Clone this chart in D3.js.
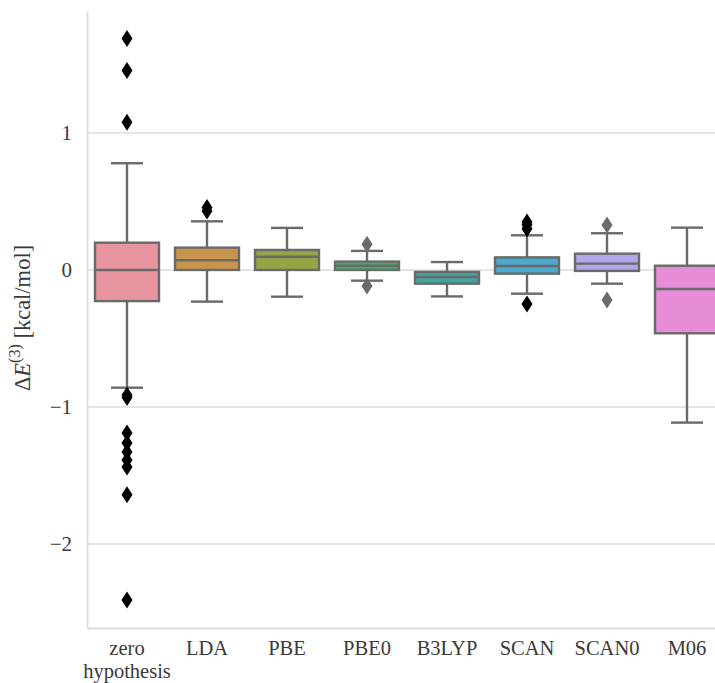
<!DOCTYPE html>
<html>
<head>
<meta charset="utf-8">
<script src="https://cdn.jsdelivr.net/npm/d3@7"></script>
<style>
  body { margin: 0; background: #fff; }
  text { font-family: "Liberation Serif", "DejaVu Serif", serif; fill: #3a3a3a; }
</style>
</head>
<body>
<div id="chart"></div>
<script>
// categories and box statistics
var categories = ["zero hypothesis", "LDA", "PBE", "PBE0", "B3LYP", "SCAN", "SCAN0", "M06"];
var q1 = [-0.227, 0.0, 0.0, 0.0, -0.1, -0.027, -0.007, -0.462];
var median = [0.0, 0.071, 0.097, 0.031, -0.051, 0.029, 0.046, -0.139];
var q3 = [0.199, 0.163, 0.146, 0.061, -0.014, 0.092, 0.119, 0.031];
var whiskerLo = [-0.859, -0.231, -0.195, -0.078, -0.193, -0.173, -0.1, -1.114];
var whiskerHi = [0.779, 0.355, 0.307, 0.139, 0.058, 0.253, 0.268, 0.309];
var outliers = [
  [1.69, 1.455, 1.078, -0.912, -0.93, -1.19, -1.263, -1.328, -1.387, -1.438, -1.64, -2.409],
  [0.43, 0.455],
  [],
  [0.187, -0.117],
  [],
  [0.30, 0.33, 0.35, -0.248],
  [0.328, -0.219],
  []
];
var darkFliers = [true, true, false, false, false, true, false, false];
var yTicks = [-2, -1, 0, 1];

var fills = ["#e9959f", "#c9954c", "#98a345", "#3fae66", "#3ca69f", "#4caacf", "#b4a6eb", "#e78cd6"];

var svgWidth = 715;
var svgHeight = 683;
var lineGray = "#6a6a6a";
var spineGray = "#dcdcdc";

var svg = d3.select("#chart")
  .append("svg")
  .attr("width", svgWidth)
  .attr("height", svgHeight);

var x = d3.scaleBand()
  .domain(categories)
  .range([87, 727])
  .paddingInner(0)
  .paddingOuter(0);

var y = d3.scaleLinear()
  .domain([-2.613, 1.89])
  .range([628, 11]);

var boxW = x.bandwidth() * 0.8;

// grid lines
svg.append("g")
  .selectAll("line")
  .data(yTicks)
  .enter()
  .append("line")
  .attr("x1", 87)
  .attr("x2", svgWidth)
  .attr("y1", d => y(d))
  .attr("y2", d => y(d))
  .attr("stroke", spineGray)
  .attr("stroke-width", 1.6);

// axes
var leftAxis = d3.axisLeft(y)
  .tickValues(yTicks)
  .tickSize(0)
  .tickPadding(15)
  .tickFormat(d => d < 0 ? "\u2212" + Math.abs(d) : String(d));

var yAxisG = svg.append("g")
  .attr("transform", "translate(87,0)")
  .call(leftAxis);
yAxisG.select(".domain").attr("stroke", spineGray).attr("stroke-width", 1.8);
yAxisG.selectAll("text")
  .attr("font-size", 21)
  .attr("font-family", "Liberation Serif")
  .attr("fill", "#3a3a3a");

var bottomAxis = d3.axisBottom(x).tickSize(0).tickFormat("");
var xAxisG = svg.append("g")
  .attr("transform", "translate(0,628)")
  .call(bottomAxis);
xAxisG.select(".domain").attr("stroke", spineGray).attr("stroke-width", 1.8);

// category labels, one text per line so wrapped lines stay apart
var labels = svg.append("g");
categories.forEach(function(c) {
  var words = c.split(" ");
  words.forEach(function(w, i) {
    labels.append("text")
      .attr("x", x(c) + x.bandwidth() / 2)
      .attr("y", 655 + i * 23)
      .attr("text-anchor", "middle")
      .attr("font-size", 20.5)
      .text(w);
  });
});

// y label
var yl = svg.append("text")
  .attr("transform", "translate(30,318) rotate(-90)")
  .attr("text-anchor", "middle")
  .attr("font-size", 22.5);
yl.append("tspan").text("\u0394");
yl.append("tspan").attr("font-style", "italic").text("E");
yl.append("tspan").attr("font-size", 16).attr("dy", -10).text("(3)");
yl.append("tspan").attr("dy", 10).text(" [kcal/mol]");

// boxes
var boxes = svg.append("g")
  .selectAll("g")
  .data(categories)
  .enter()
  .append("g");

boxes.each(function(c, i) {
  var g = d3.select(this);
  var cx = x(c) + x.bandwidth() / 2;

  // whiskers
  g.append("line")
    .attr("x1", cx).attr("x2", cx)
    .attr("y1", y(q3[i])).attr("y2", y(whiskerHi[i]))
    .attr("stroke", lineGray).attr("stroke-width", 2.4);
  g.append("line")
    .attr("x1", cx).attr("x2", cx)
    .attr("y1", y(q1[i])).attr("y2", y(whiskerLo[i]))
    .attr("stroke", lineGray).attr("stroke-width", 2.4);
  [whiskerHi[i], whiskerLo[i]].forEach(function(v) {
    g.append("line")
      .attr("x1", cx - boxW / 4).attr("x2", cx + boxW / 4)
      .attr("y1", y(v)).attr("y2", y(v))
      .attr("stroke", lineGray).attr("stroke-width", 2.4);
  });

  // box
  g.append("rect")
    .attr("x", cx - boxW / 2)
    .attr("y", y(q3[i]))
    .attr("width", boxW)
    .attr("height", y(q1[i]) - y(q3[i]))
    .attr("fill", fills[i])
    .attr("stroke", lineGray)
    .attr("stroke-width", 2.4);

  // median
  g.append("line")
    .attr("x1", cx - boxW / 2).attr("x2", cx + boxW / 2)
    .attr("y1", y(median[i])).attr("y2", y(median[i]))
    .attr("stroke", lineGray).attr("stroke-width", 2.4);

  // fliers
  g.selectAll("path")
    .data(outliers[i])
    .enter()
    .append("path")
    .attr("d", "M0,-8.5 L5.5,0 L0,8.5 L-5.5,0 Z")
    .attr("transform", d => "translate(" + cx + "," + y(d) + ")")
    .attr("fill", darkFliers[i] ? "#000" : lineGray);
});
</script>
</body>
</html>
